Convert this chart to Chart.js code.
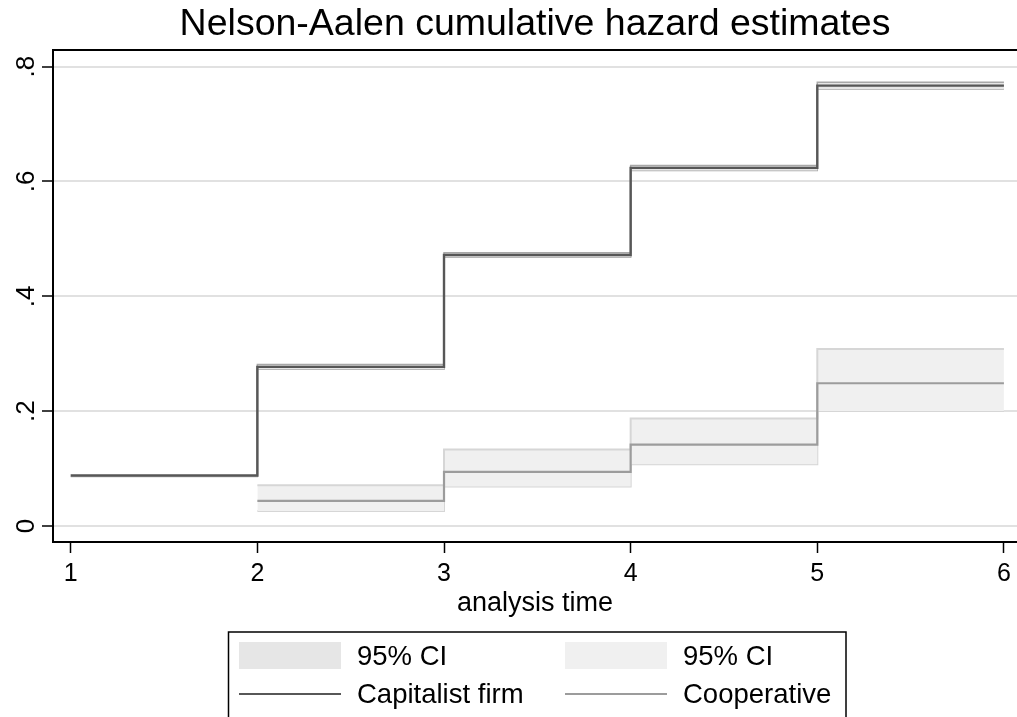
<!DOCTYPE html>
<html>
<head>
<meta charset="utf-8">
<script src="https://cdn.jsdelivr.net/npm/chart.js@4.4.1/dist/chart.umd.min.js"></script>
<style>
  html, body { margin: 0; padding: 0; background: #fff; }
</style>
</head>
<body>
<canvas id="hazardChart" width="1017" height="717"></canvas>
<script>
'use strict';

// analysis times and Nelson-Aalen estimates
const capTimes = [1, 2, 3, 4, 5, 6];
const capitalist = [0.0876, 0.277, 0.472, 0.6236, 0.767, 0.767];
const capLower = [0.0862, 0.273, 0.468, 0.619, 0.761, 0.761];
const capUpper = [0.089, 0.281, 0.476, 0.628, 0.773, 0.773];

const coopTimes = [2, 3, 4, 5, 6];
const cooperative = [0.0435, 0.094, 0.1417, 0.2485, 0.2485];
const coopLower = [0.0261, 0.0685, 0.1075, 0.2003, 0.2003];
const coopUpper = [0.0709, 0.133, 0.187, 0.308, 0.308];

const xTicks = [1, 2, 3, 4, 5, 6];
const yTicks = [0, 0.2, 0.4, 0.6, 0.8];

const FONT = "'Liberation Sans', Arial, Helvetica, sans-serif";
Chart.defaults.font.family = FONT;
Chart.defaults.color = '#000';

function pts(xs, ys) {
  return xs.map((x, i) => ({ x: x, y: ys[i] }));
}

function yLabel(v) {
  if (v === 0) return '0';
  return String(Number(v.toFixed(1))).replace(/^0/, '');
}

const colors = {
  capLine: '#575757',
  capBand: '#e6e6e6',
  capBandEdge: '#a8a8a8',
  coopLine: '#9c9c9c',
  coopBand: '#f0f0f0',
  coopBandEdge: '#d6d6d6'
};

// top frame of the plot region
const framePlugin = {
  id: 'frame',
  beforeDatasetsDraw(chart) {
    const a = chart.chartArea;
    const ctx = chart.ctx;
    ctx.save();
    ctx.strokeStyle = '#000';
    ctx.lineWidth = 2;
    ctx.beginPath();
    ctx.moveTo(a.left - 1, a.top);
    ctx.lineTo(a.right, a.top);
    ctx.stroke();
    ctx.restore();
  }
};

// Stata-like boxed legend below the axis title
const legendPlugin = {
  id: 'boxLegend',
  afterDraw(chart) {
    const ctx = chart.ctx;
    const items = [
      { kind: 'box', color: colors.capBand, text: '95% CI', col: 0, row: 0 },
      { kind: 'box', color: colors.coopBand, text: '95% CI', col: 1, row: 0 },
      { kind: 'line', color: colors.capLine, text: 'Capitalist firm', col: 0, row: 1 },
      { kind: 'line', color: colors.coopLine, text: 'Cooperative', col: 1, row: 1 }
    ];
    const colX = [239, 565];
    const rowY = [656, 694];
    ctx.save();
    ctx.strokeStyle = '#000';
    ctx.lineWidth = 1.5;
    ctx.strokeRect(228.5, 632, 617.5, 120);
    ctx.font = '27.5px ' + FONT;
    ctx.textBaseline = 'middle';
    items.forEach(it => {
      const x = colX[it.col];
      const y = rowY[it.row];
      if (it.kind === 'box') {
        ctx.fillStyle = it.color;
        ctx.fillRect(x, 642, 102, 27);
      } else {
        ctx.strokeStyle = it.color;
        ctx.lineWidth = 2.2;
        ctx.beginPath();
        ctx.moveTo(x, y);
        ctx.lineTo(x + 102, y);
        ctx.stroke();
      }
      ctx.fillStyle = '#000';
      ctx.fillText(it.text, x + 118, y + 1);
    });
    ctx.restore();
  }
};

const config = {
  type: 'line',
  data: {
    datasets: [
      {
        label: 'Capitalist firm',
        data: pts(capTimes, capitalist),
        borderColor: colors.capLine,
        borderWidth: 2.4,
        stepped: 'before',
        pointRadius: 0,
        fill: false,
        order: 0
      },
      {
        label: 'Cooperative',
        data: pts(coopTimes, cooperative),
        borderColor: colors.coopLine,
        borderWidth: 2.2,
        stepped: 'before',
        pointRadius: 0,
        fill: false,
        order: 0
      },
      {
        label: '95% CI',
        data: pts(capTimes, capUpper),
        borderColor: colors.capBandEdge,
        backgroundColor: colors.capBand,
        borderWidth: 1.5,
        stepped: 'before',
        pointRadius: 0,
        fill: '+1',
        order: 1
      },
      {
        label: '95% CI lower',
        data: pts(capTimes, capLower),
        borderColor: colors.capBandEdge,
        borderWidth: 1.5,
        stepped: 'before',
        pointRadius: 0,
        fill: false,
        order: 1
      },
      {
        label: '95% CI',
        data: pts(coopTimes, coopUpper),
        borderColor: colors.coopBandEdge,
        backgroundColor: colors.coopBand,
        borderWidth: 2,
        stepped: 'before',
        pointRadius: 0,
        fill: '+1',
        order: 2
      },
      {
        label: '95% CI lower',
        data: pts(coopTimes, coopLower),
        borderColor: colors.coopBandEdge,
        borderWidth: 2,
        stepped: 'before',
        pointRadius: 0,
        fill: false,
        order: 2
      }
    ]
  },
  options: {
    responsive: false,
    animation: false,
    devicePixelRatio: 1,
    layout: { padding: { left: 0, right: 0, top: 0, bottom: 97 } },
    plugins: {
      legend: { display: false },
      tooltip: { enabled: false },
      title: {
        display: true,
        fullSize: false,
        text: 'Nelson-Aalen cumulative hazard estimates',
        color: '#000',
        font: { size: 37.5, weight: 'normal' },
        padding: { top: 2, bottom: 3 }
      }
    },
    scales: {
      x: {
        type: 'linear',
        min: 0.905,
        max: 6.07,
        afterBuildTicks: s => { s.ticks = xTicks.map(v => ({ value: v })); },
        afterFit: s => { s.height = 78; },
        ticks: {
          font: { size: 25 },
          color: '#000',
          padding: 6,
          maxRotation: 0,
          callback: v => String(v)
        },
        grid: {
          drawOnChartArea: false,
          drawTicks: true,
          tickLength: 11,
          tickWidth: 1.5,
          tickColor: '#000'
        },
        border: { display: true, color: '#000', width: 2 },
        title: {
          display: true,
          text: 'analysis time',
          color: '#000',
          font: { size: 27 },
          padding: { top: 0, bottom: 0 }
        }
      },
      y: {
        type: 'linear',
        min: -0.028,
        max: 0.829,
        afterBuildTicks: s => { s.ticks = yTicks.map(v => ({ value: v })); },
        afterFit: s => { s.width = 53; },
        ticks: {
          font: { size: 26 },
          color: '#000',
          minRotation: 90,
          maxRotation: 90,
          crossAlign: 'center',
          padding: 4,
          callback: v => yLabel(v)
        },
        grid: {
          color: '#e1e1e1',
          lineWidth: 2,
          drawTicks: true,
          tickLength: 11,
          tickWidth: 1.5,
          tickColor: '#000'
        },
        border: { display: true, color: '#000', width: 2 }
      }
    }
  },
  plugins: [framePlugin, legendPlugin]
};

const hazardChart = new Chart(document.getElementById('hazardChart').getContext('2d'), config);
</script>
</body>
</html>
